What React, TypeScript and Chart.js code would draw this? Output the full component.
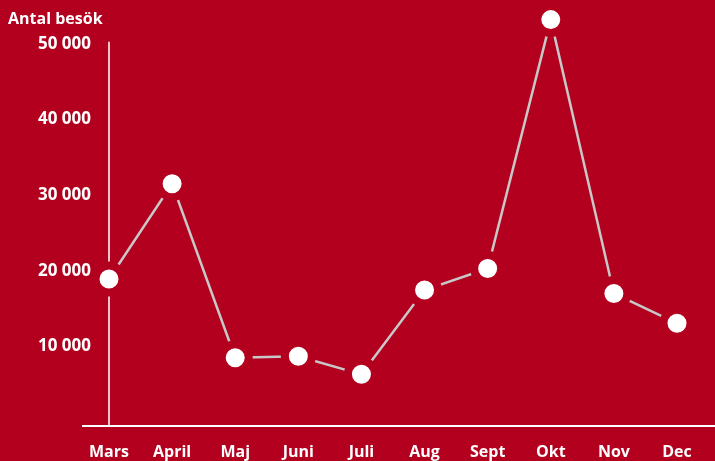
import React, { useEffect, useRef } from "react";
import { Chart, registerables } from "chart.js";

Chart.register(...registerables);

const months = ["Mars", "April", "Maj", "Juni", "Juli", "Aug", "Sept", "Okt", "Nov", "Dec"];
const visitors = [18900, 31500, 8500, 8700, 6300, 17450, 20300, 53200, 17000, 13050];
const yTicks = [10000, 20000, 30000, 40000, 50000];
const yTitle = "Antal besök";

const BG = "#b2001e";
const FONT = "'Open Sans', 'Noto Sans', sans-serif";

const decorPlugin = {
  id: "decor",
  beforeDatasetsDraw(chart: any) {
    const { ctx, chartArea, scales } = chart;
    ctx.save();
    ctx.strokeStyle = "#f0c4cc";
    ctx.lineWidth = 2;
    ctx.beginPath();
    ctx.moveTo(chartArea.left, scales.y.getPixelForValue(50000) - 2);
    ctx.lineTo(chartArea.left, chartArea.bottom);
    ctx.stroke();
    ctx.strokeStyle = "#ffffff";
    ctx.beginPath();
    ctx.moveTo(82, chartArea.bottom);
    ctx.lineTo(chart.width, chartArea.bottom);
    ctx.stroke();
    ctx.fillStyle = "#ffffff";
    ctx.font = `bold 16px ${FONT}`;
    ctx.textAlign = "left";
    ctx.textBaseline = "middle";
    ctx.fillText(yTitle, 8, 19);
    ctx.restore();
  },
};

export default function App() {
  const ref = useRef<HTMLCanvasElement>(null);
  useEffect(() => {
    const chart = new Chart(ref.current!, {
      type: "line",
      data: {
        labels: months,
        datasets: [
          {
            data: visitors,
            borderColor: "#c8c8c8",
            borderWidth: 2.5,
            pointRadius: 13.5,
            pointHoverRadius: 13.5,
            pointBorderWidth: 8,
            pointBorderColor: BG,
            pointBackgroundColor: "#ffffff",
            tension: 0,
            clip: false as any,
          },
        ],
      },
      plugins: [decorPlugin],
      options: {
        animation: false,
        responsive: false,
        maintainAspectRatio: false,
        layout: { autoPadding: false, padding: { top: 6, right: 38, left: 0, bottom: 0 } },
        plugins: { legend: { display: false }, tooltip: { enabled: false }, title: { display: false } },
        scales: {
          x: {
            type: "category",
            offset: false,
            grid: { display: false, drawTicks: false },
            border: { display: false },
            ticks: {
              color: "#ffffff",
              font: { family: FONT, size: 16, weight: "bold" },
              padding: 17,
              maxRotation: 0,
              autoSkip: false,
            },
            afterFit(scale: any) {
              scale.height = 35;
              scale.paddingLeft = 0;
              scale.paddingRight = 0;
            },
          },
          y: {
            min: -530,
            max: 55000,
            grid: { display: false, drawTicks: false },
            border: { display: false },
            afterBuildTicks(scale: any) {
              scale.ticks = yTicks.map((v) => ({ value: v }));
            },
            afterFit(scale: any) {
              scale.width = 109;
              scale.paddingTop = 0;
              scale.paddingBottom = 0;
            },
            ticks: {
              color: "#ffffff",
              font: { family: FONT, size: 17, weight: "bold" },
              padding: 18,
              callback: (v: any) => String(v).replace(/\B(?=(\d{3})+(?!\d))/g, " "),
            },
          },
        },
      },
    });
    return () => chart.destroy();
  }, []);
  return (
    <div style={{ position: "fixed", left: 0, top: 0, width: 715, height: 461, background: BG }}>
      <canvas ref={ref} width={715} height={461} style={{ display: "block" }} />
    </div>
  );
}
